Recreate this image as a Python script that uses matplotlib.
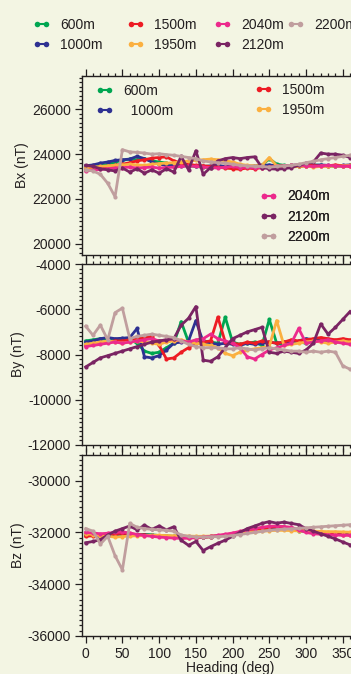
import matplotlib
matplotlib.use('Agg')
import matplotlib.pyplot as plt
from matplotlib.ticker import MultipleLocator
from matplotlib.lines import Line2D

plt.rcParams['font.family'] = ['Liberation Sans', 'DejaVu Sans']
plt.rcParams['font.size'] = 10
plt.rcParams['axes.unicode_minus'] = False

heading = [0, 10, 20, 30, 40, 50, 60, 70, 80, 90, 100, 110, 120, 130, 140, 150, 160, 170, 180,
           190, 200, 210, 220, 230, 240, 250, 260, 270, 280, 290, 300, 310, 320, 330, 340, 350, 360]

depths = ['600m', '1000m', '1500m', '1950m', '2040m', '2120m', '2200m']
colors = ['#00A651', '#2E3192', '#ED1C24', '#FBB040', '#EC2A8C', '#7A2463', '#C09E9E']

bx_600 = [23420, 23450, 23480, 23550, 23650, 23720, 23780, 23750, 23800, 23700, 23650, 23600, 23550,
          23500, 23480, 23450, 23420, 23400, 23420, 23450, 23480, 23450, 23420, 23450, 23500, 23800,
          23550, 23500, 23480, 23450, 23500, 23520, 23500, 23480, 23450, 23480, 23500]
bx_1000 = [23480, 23520, 23600, 23650, 23720, 23750, 23780, 23900, 23800, 23650, 23550, 23500, 23480,
           23450, 23500, 23480, 23450, 23480, 23500, 23450, 23480, 23500, 23450, 23480, 23500, 23520,
           23480, 23450, 23500, 23520, 23480, 23500, 23520, 23500, 23480, 23500, 23520]
bx_1500 = [23350, 23380, 23400, 23450, 23500, 23550, 23620, 23700, 23750, 23820, 23850, 23880, 23700,
           23600, 23550, 23500, 23480, 23450, 23420, 23380, 23350, 23330, 23380, 23350, 23400, 23420,
           23450, 23480, 23500, 23450, 23480, 23500, 23450, 23480, 23520, 23480, 23450]
bx_1950 = [23400, 23420, 23450, 23480, 23500, 23520, 23550, 23520, 23500, 23550, 23580, 23600, 23620,
           23650, 23700, 23720, 23750, 23780, 23750, 23700, 23650, 23550, 23500, 23480, 23500, 23850,
           23480, 23450, 23420, 23450, 23480, 23420, 23450, 23480, 23450, 23480, 23500]
bx_2040 = [23250, 23280, 23320, 23350, 23380, 23400, 23420, 23380, 23400, 23420, 23380, 23400, 23420,
           23450, 23480, 23450, 23420, 23400, 23380, 23420, 23450, 23400, 23420, 23380, 23400, 23420,
           23450, 23480, 23500, 23520, 23480, 23450, 23480, 23500, 23480, 23450, 23480]
bx_2120 = [23500, 23450, 23350, 23300, 23250, 23380, 23200, 23350, 23150, 23300, 23150, 23350, 23200,
           23900, 23300, 24150, 23100, 23400, 23700, 23800, 23850, 23800, 23850, 23880, 23400, 23350,
           23330, 23350, 23400, 23500, 23600, 23650, 24050, 24000, 24000, 23950, 23850]
bx_2200 = [23300, 23250, 23100, 22700, 22100, 24200, 24100, 24080, 24050, 24000, 24020, 23980, 23950,
           23900, 23850, 23800, 23700, 23650, 23620, 23600, 23550, 23500, 23480, 23450, 23450, 23420,
           23450, 23480, 23500, 23550, 23620, 23680, 23750, 23800, 23850, 23900, 23950]

by_600 = [-7400, -7350, -7300, -7350, -7400, -7300, -7350, -7500, -7850, -7950, -7900, -7700, -7500,
          -6550, -7450, -7500, -7400, -7450, -7500, -6350, -7450, -7550, -7500, -7450, -7600, -6450,
          -7500, -7550, -7500, -7450, -7500, -7400, -7350, -7400, -7450, -7350, -7400]
by_1000 = [-7450, -7400, -7300, -7250, -7300, -7280, -7250, -6850, -8100, -8150, -8050, -7800, -7500,
           -7450, -7400, -6500, -7450, -7500, -7550, -7500, -7550, -7600, -7500, -7550, -7500, -7450,
           -7500, -7450, -7500, -7400, -7300, -7350, -7400, -7450, -7400, -7350, -7400]
by_1500 = [-7600, -7550, -7500, -7450, -7400, -7400, -7350, -7300, -7250, -7200, -7600, -8200, -8150,
           -7900, -7700, -7500, -7450, -7400, -6350, -7450, -7500, -7550, -7450, -7500, -7400, -7450,
           -7500, -7450, -7350, -7400, -7350, -7300, -7250, -7300, -7350, -7300, -7350]
by_1950 = [-7550, -7500, -7450, -7400, -7450, -7500, -7450, -7400, -7450, -7500, -7550, -7450, -7400,
           -7350, -7450, -7500, -7550, -7600, -7700, -7950, -8050, -7900, -7800, -7750, -7700, -7650,
           -6500, -7600, -7550, -7500, -7450, -7400, -7450, -7500, -7450, -7400, -7450]
by_2040 = [-7650, -7600, -7550, -7500, -7450, -7500, -7450, -7400, -7350, -7300, -7400, -7350, -7300,
           -7400, -7450, -7350, -7300, -7100, -7300, -7400, -7500, -7700, -8100, -8200, -8000, -7800,
           -7700, -7600, -7500, -6850, -7500, -7450, -7400, -7350, -7450, -7500, -7550]
by_2120 = [-8550, -8350, -8150, -8050, -7950, -7850, -7750, -7650, -7550, -7450, -7400, -7350, -7300,
           -6700, -6400, -5880, -8250, -8300, -8100, -7700, -7300, -7150, -7000, -6900, -6800, -7900,
           -7950, -7850, -7900, -7950, -7800, -7500, -6650, -7100, -6800, -6450, -6100]
by_2200 = [-6750, -7150, -6700, -7350, -6150, -5950, -7300, -7200, -7150, -7100, -7150, -7200, -7250,
           -7400, -7550, -7650, -7700, -7700, -7700, -7750, -7750, -7700, -7750, -7800, -7750, -7700,
           -7750, -7800, -7850, -7850, -7900, -7850, -7900, -7850, -7900, -8500, -8650]

bz_600 = [-32100, -32080, -32120, -32100, -32080, -32060, -32080, -32100, -32080, -32090, -32120, -32130,
          -32150, -32140, -32160, -32180, -32170, -32150, -32130, -32100, -32080, -32050, -32000, -31950,
          -31900, -31870, -31850, -31870, -31900, -31930, -31960, -31990, -32010, -32030, -32050, -32060,
          -32070]
bz_1000 = [-32080, -32100, -32150, -32120, -32100, -32050, -32070, -32090, -32100, -32110, -32120, -32150,
           -32160, -32170, -32180, -32190, -32180, -32160, -32140, -32110, -32080, -32040, -31990, -31940,
           -31900, -31860, -31840, -31860, -31890, -31920, -31950, -31980, -32000, -32020, -32040, -32050,
           -32060]
bz_1500 = [-32150, -32130, -32100, -32080, -32050, -32030, -32050, -32080, -32100, -32120, -32150, -32170,
           -32180, -32200, -32210, -32200, -32190, -32170, -32140, -32110, -32070, -32020, -31960, -31900,
           -31850, -31800, -31780, -31800, -31850, -31900, -31950, -32000, -32030, -32060, -32080, -32090,
           -32100]
bz_1950 = [-32050, -32080, -32120, -32150, -32180, -32160, -32140, -32130, -32120, -32110, -32110, -32120,
           -32130, -32140, -32140, -32150, -32150, -32140, -32120, -32100, -32070, -32040, -32000, -31970,
           -31950, -31930, -31920, -31920, -31930, -31940, -31940, -31950, -31960, -31970, -31970, -31980,
           -31990]
bz_2040 = [-32000, -32020, -32050, -32030, -32000, -31980, -32020, -32080, -32120, -32150, -32180, -32200,
           -32220, -32230, -32220, -32200, -32180, -32150, -32110, -32070, -32020, -31960, -31900, -31850,
           -31800, -31760, -31750, -31770, -31800, -31900, -32000, -32050, -32070, -32090, -32100, -32110,
           -32110]
bz_2120 = [-32400, -32350, -32280, -32100, -31950, -31850, -31750, -31900, -31720, -31880, -31750, -31900,
           -31780, -32300, -32500, -32350, -32700, -32550, -32420, -32300, -32150, -32000, -31850, -31750,
           -31650, -31580, -31640, -31600, -31650, -31700, -31850, -31950, -32050, -32150, -32250, -32370,
           -32480]
bz_2200 = [-31850, -31950, -32450, -32150, -32900, -33450, -31650, -31800, -31850, -31880, -31900, -31920,
           -31950, -32100, -32150, -32170, -32180, -32170, -32160, -32150, -32120, -32080, -32040, -32000,
           -31960, -31920, -31890, -31870, -31860, -31840, -31820, -31800, -31780, -31760, -31740, -31720,
           -31700]

bx = [bx_600, bx_1000, bx_1500, bx_1950, bx_2040, bx_2120, bx_2200]
by = [by_600, by_1000, by_1500, by_1950, by_2040, by_2120, by_2200]
bz = [bz_600, bz_1000, bz_1500, bz_1950, bz_2040, bz_2120, bz_2200]

bg = '#F3F5E3'
txt = '#231F20'
W, H = 351, 674
fig = plt.figure(figsize=(W / 100, H / 100), dpi=100, facecolor=bg)

left = 82.3 / W
width = (378 - 82.3) / W
panels = [
    (bx, 'Bx (nT)', (19500, 27500), 255, 179.3),
    (by, 'By (nT)', (-12000, -4000), 445, 181),
    (bz, 'Bz (nT)', (-36000, -29000), 635.7, 180.7),
]

axes = []
for i, (data, label, ylim, bottom_px, h_px) in enumerate(panels):
    ax = fig.add_axes([left, 1 - bottom_px / H, width, h_px / H], facecolor=bg)
    for vals, c in zip(data, colors):
        ax.plot(heading, vals, color=c, lw=2.0, marker='o', ms=3.0, mew=0)
    ax.set_xlim(-4.6, 398)
    ax.set_ylim(*ylim)
    ax.xaxis.set_major_locator(MultipleLocator(50))
    ax.xaxis.set_minor_locator(MultipleLocator(10))
    ax.yaxis.set_major_locator(MultipleLocator(2000))
    ax.yaxis.set_minor_locator(MultipleLocator(200))
    ax.tick_params(which='both', direction='out', top=True, right=False, colors=txt,
                   labelsize=10, width=0.9)
    ax.tick_params(which='major', length=5, pad=3)
    ax.tick_params(which='minor', length=2.5)
    for s in ax.spines.values():
        s.set_color(txt)
        s.set_linewidth(1.0)
    ax.set_ylabel(label, color=txt, fontsize=10, labelpad=2)
    if i < 2:
        ax.tick_params(labelbottom=False)
    else:
        ax.set_xlabel('Heading (deg)', color=txt, fontsize=10, labelpad=0)
    axes.append(ax)


def handle(c):
    return Line2D([0, 1], [0, 0], color=c, lw=1.5, marker='o', ms=4, mew=0)


leg_kw = dict(frameon=False, fontsize=10, handlelength=1.25, handletextpad=0.7,
              borderpad=0, borderaxespad=0, labelspacing=0.45, labelcolor=txt,
              loc='center left', bbox_transform=fig.transFigure, numpoints=2)

# top legend, one column at a time
top_cols = [([0, 1], 33), ([2, 3], 127), ([4, 5], 214), ([6], 287)]
for idx, x0 in top_cols:
    yc = 35 if len(idx) == 2 else 25
    lg = fig.legend([handle(colors[k]) for k in idx], [depths[k] for k in idx],
                    bbox_to_anchor=(x0 / W, 1 - yc / H), **leg_kw)

# legends inside the Bx panel
ax0 = axes[0]
inner = [([0, 1], ['600m', '  1000m'], 96, 101),
         ([2, 3], ['1500m', '1950m'], 255, 100),
         ([4, 5, 6], ['2040m', '2120m', '2200m'], 260, 216.7)]
for idx, labs, x0, yc in inner:
    lg = ax0.legend([handle(colors[k]) for k in idx], labs,
                    bbox_to_anchor=(x0 / W, 1 - yc / H), **leg_kw)
    ax0.add_artist(lg)

fig.savefig('out.png', dpi=100, facecolor=bg)
